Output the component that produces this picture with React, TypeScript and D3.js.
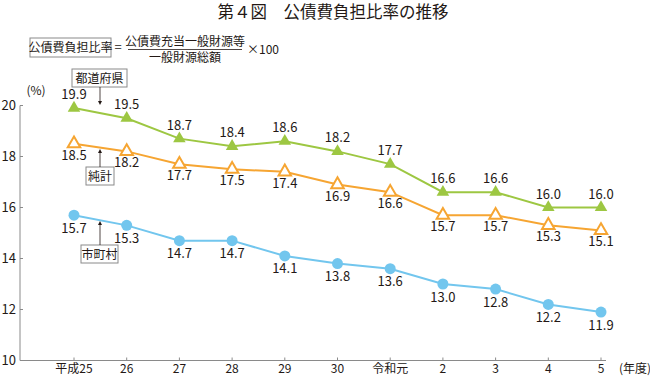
import React from 'react';
import * as d3 from 'd3';

const years = ['平成25', '26', '27', '28', '29', '30', '令和元', '2', '3', '4', '5'];
const prefValues = [19.9, 19.5, 18.7, 18.4, 18.6, 18.2, 17.7, 16.6, 16.6, 16.0, 16.0];
const totalValues = [18.5, 18.2, 17.7, 17.5, 17.4, 16.9, 16.6, 15.7, 15.7, 15.3, 15.1];
const muniValues = [15.7, 15.3, 14.7, 14.7, 14.1, 13.8, 13.6, 13.0, 12.8, 12.2, 11.9];
const yTicks = [10, 12, 14, 16, 18, 20];

const W = 650;
const H = 376;
const FONT = '"Noto Sans CJK JP", "Noto Sans", sans-serif';
const GREEN = '#9DC742';
const ORANGE = '#F6A532';
const BLUE = '#72C6EE';
const TEXT = '#231815';
const AXIS = '#8a8a8a';

export default function App() {
  const x = d3.scalePoint<string>().domain(years).range([74, 601]);
  const y = d3.scaleLinear().domain([10, 20]).range([360.5, 105.5]);
  const line = d3
    .line<number>()
    .x((_, i) => x(years[i]) as number)
    .y((d) => y(d));
  const tri = d3.symbol().type(d3.symbolTriangle).size(68)();

  const Callout = ({ label, bx, by, bw, arrowX, y1, y2 }: any) => {
    const dir = y2 > y1 ? 1 : -1;
    return (
      <g>
        <rect x={bx} y={by} width={bw} height={18} fill="#fff" stroke={AXIS} strokeWidth={1} />
        <text x={bx + bw / 2} y={by + 13.5} textAnchor="middle" fontSize={12} fill={TEXT} fontFamily={FONT}>
          {label}
        </text>
        <line x1={arrowX} x2={arrowX} y1={y1} y2={y2 - dir * 3} stroke={TEXT} strokeWidth={0.8} />
        <path
          d={`M${arrowX - 2},${y2 - dir * 4} L${arrowX + 2},${y2 - dir * 4} L${arrowX},${y2} Z`}
          fill={TEXT}
        />
      </g>
    );
  };

  return (
    <svg width={W} height={H} style={{ position: 'absolute', left: 0, top: 0, background: '#fff' }}>
      {/* Title */}
      <text x={333} y={18} textAnchor="middle" fontSize={16.5} fill={TEXT} fontFamily={FONT} fontWeight={400}>
        第４図　公債費負担比率の推移
      </text>

      {/* Formula */}
      <rect x={30} y={38} width={81} height={19} fill="#fff" stroke={AXIS} strokeWidth={1} />
      <text x={70.5} y={52} textAnchor="middle" fontSize={12} fill={TEXT} fontFamily={FONT}>
        公債費負担比率
      </text>
      <text x={118} y={52} textAnchor="middle" fontSize={13} fill={TEXT} fontFamily={FONT}>
        =
      </text>
      <text x={185} y={46} textAnchor="middle" fontSize={12} fill={TEXT} fontFamily={FONT}>
        公債費充当一般財源等
      </text>
      <line x1={128} x2={242} y1={49.5} y2={49.5} stroke={TEXT} strokeWidth={0.8} />
      <text x={185} y={62} textAnchor="middle" fontSize={12} fill={TEXT} fontFamily={FONT}>
        一般財源総額
      </text>
      <text x={247} y={54} fontSize={12} fill={TEXT} fontFamily={FONT}>
        ×100
      </text>

      {/* Y axis */}
      <line x1={20} x2={20} y1={y(20)} y2={y(10)} stroke={AXIS} strokeWidth={1} />
      {yTicks.map((t) => (
        <g key={t}>
          <line x1={20} x2={23} y1={y(t)} y2={y(t)} stroke={AXIS} strokeWidth={1} />
          <text x={16} y={y(t) + 4.5} textAnchor="end" fontSize={13} fill={TEXT} fontFamily={FONT}>
            {t}
          </text>
        </g>
      ))}
      <text x={36} y={95} textAnchor="middle" fontSize={12} fill={TEXT} fontFamily={FONT}>
        (%)
      </text>

      {/* X axis */}
      <line x1={20} x2={606} y1={y(10)} y2={y(10)} stroke={AXIS} strokeWidth={1} />
      {years.map((yr) => (
        <g key={yr}>
          <line x1={x(yr)} x2={x(yr)} y1={y(10)} y2={y(10) - 3} stroke={AXIS} strokeWidth={1} />
          <text x={x(yr)} y={373} textAnchor="middle" fontSize={12} fill={TEXT} fontFamily={FONT}>
            {yr}
          </text>
        </g>
      ))}
      <text x={619} y={373} fontSize={12} fill={TEXT} fontFamily={FONT}>
        (年度)
      </text>

      {/* Lines */}
      <path d={line(prefValues) as string} fill="none" stroke={GREEN} strokeWidth={2} />
      <path d={line(totalValues) as string} fill="none" stroke={ORANGE} strokeWidth={2} />
      <path d={line(muniValues) as string} fill="none" stroke={BLUE} strokeWidth={2} />

      {/* Markers & labels */}
      {prefValues.map((v, i) => (
        <g key={'p' + i}>
          <path d={tri as string} transform={`translate(${x(years[i])},${y(v)})`} fill={GREEN} />
          <text x={x(years[i])} y={y(v) - 9} textAnchor="middle" fontSize={13} fill={TEXT} fontFamily={FONT}>
            {v.toFixed(1)}
          </text>
        </g>
      ))}
      {totalValues.map((v, i) => (
        <g key={'t' + i}>
          <path
            d={tri as string}
            transform={`translate(${x(years[i])},${y(v)})`}
            fill="#fff"
            stroke={ORANGE}
            strokeWidth={2}
          />
          <text x={x(years[i])} y={y(v) + 16} textAnchor="middle" fontSize={13} fill={TEXT} fontFamily={FONT}>
            {v.toFixed(1)}
          </text>
        </g>
      ))}
      {muniValues.map((v, i) => (
        <g key={'m' + i}>
          <circle cx={x(years[i])} cy={y(v)} r={5.5} fill={BLUE} />
          <text x={x(years[i])} y={y(v) + 17.5} textAnchor="middle" fontSize={13} fill={TEXT} fontFamily={FONT}>
            {v.toFixed(1)}
          </text>
        </g>
      ))}

      {/* Callouts */}
      <Callout label="都道府県" bx={72} by={69} bw={55} arrowX={100} y1={87} y2={105} />
      <Callout label="純計" bx={86} by={167} bw={28} arrowX={100} y1={167} y2={149} />
      <Callout label="市町村" bx={81} by={245} bw={37} arrowX={100} y1={245} y2={221} />
    </svg>
  );
}
